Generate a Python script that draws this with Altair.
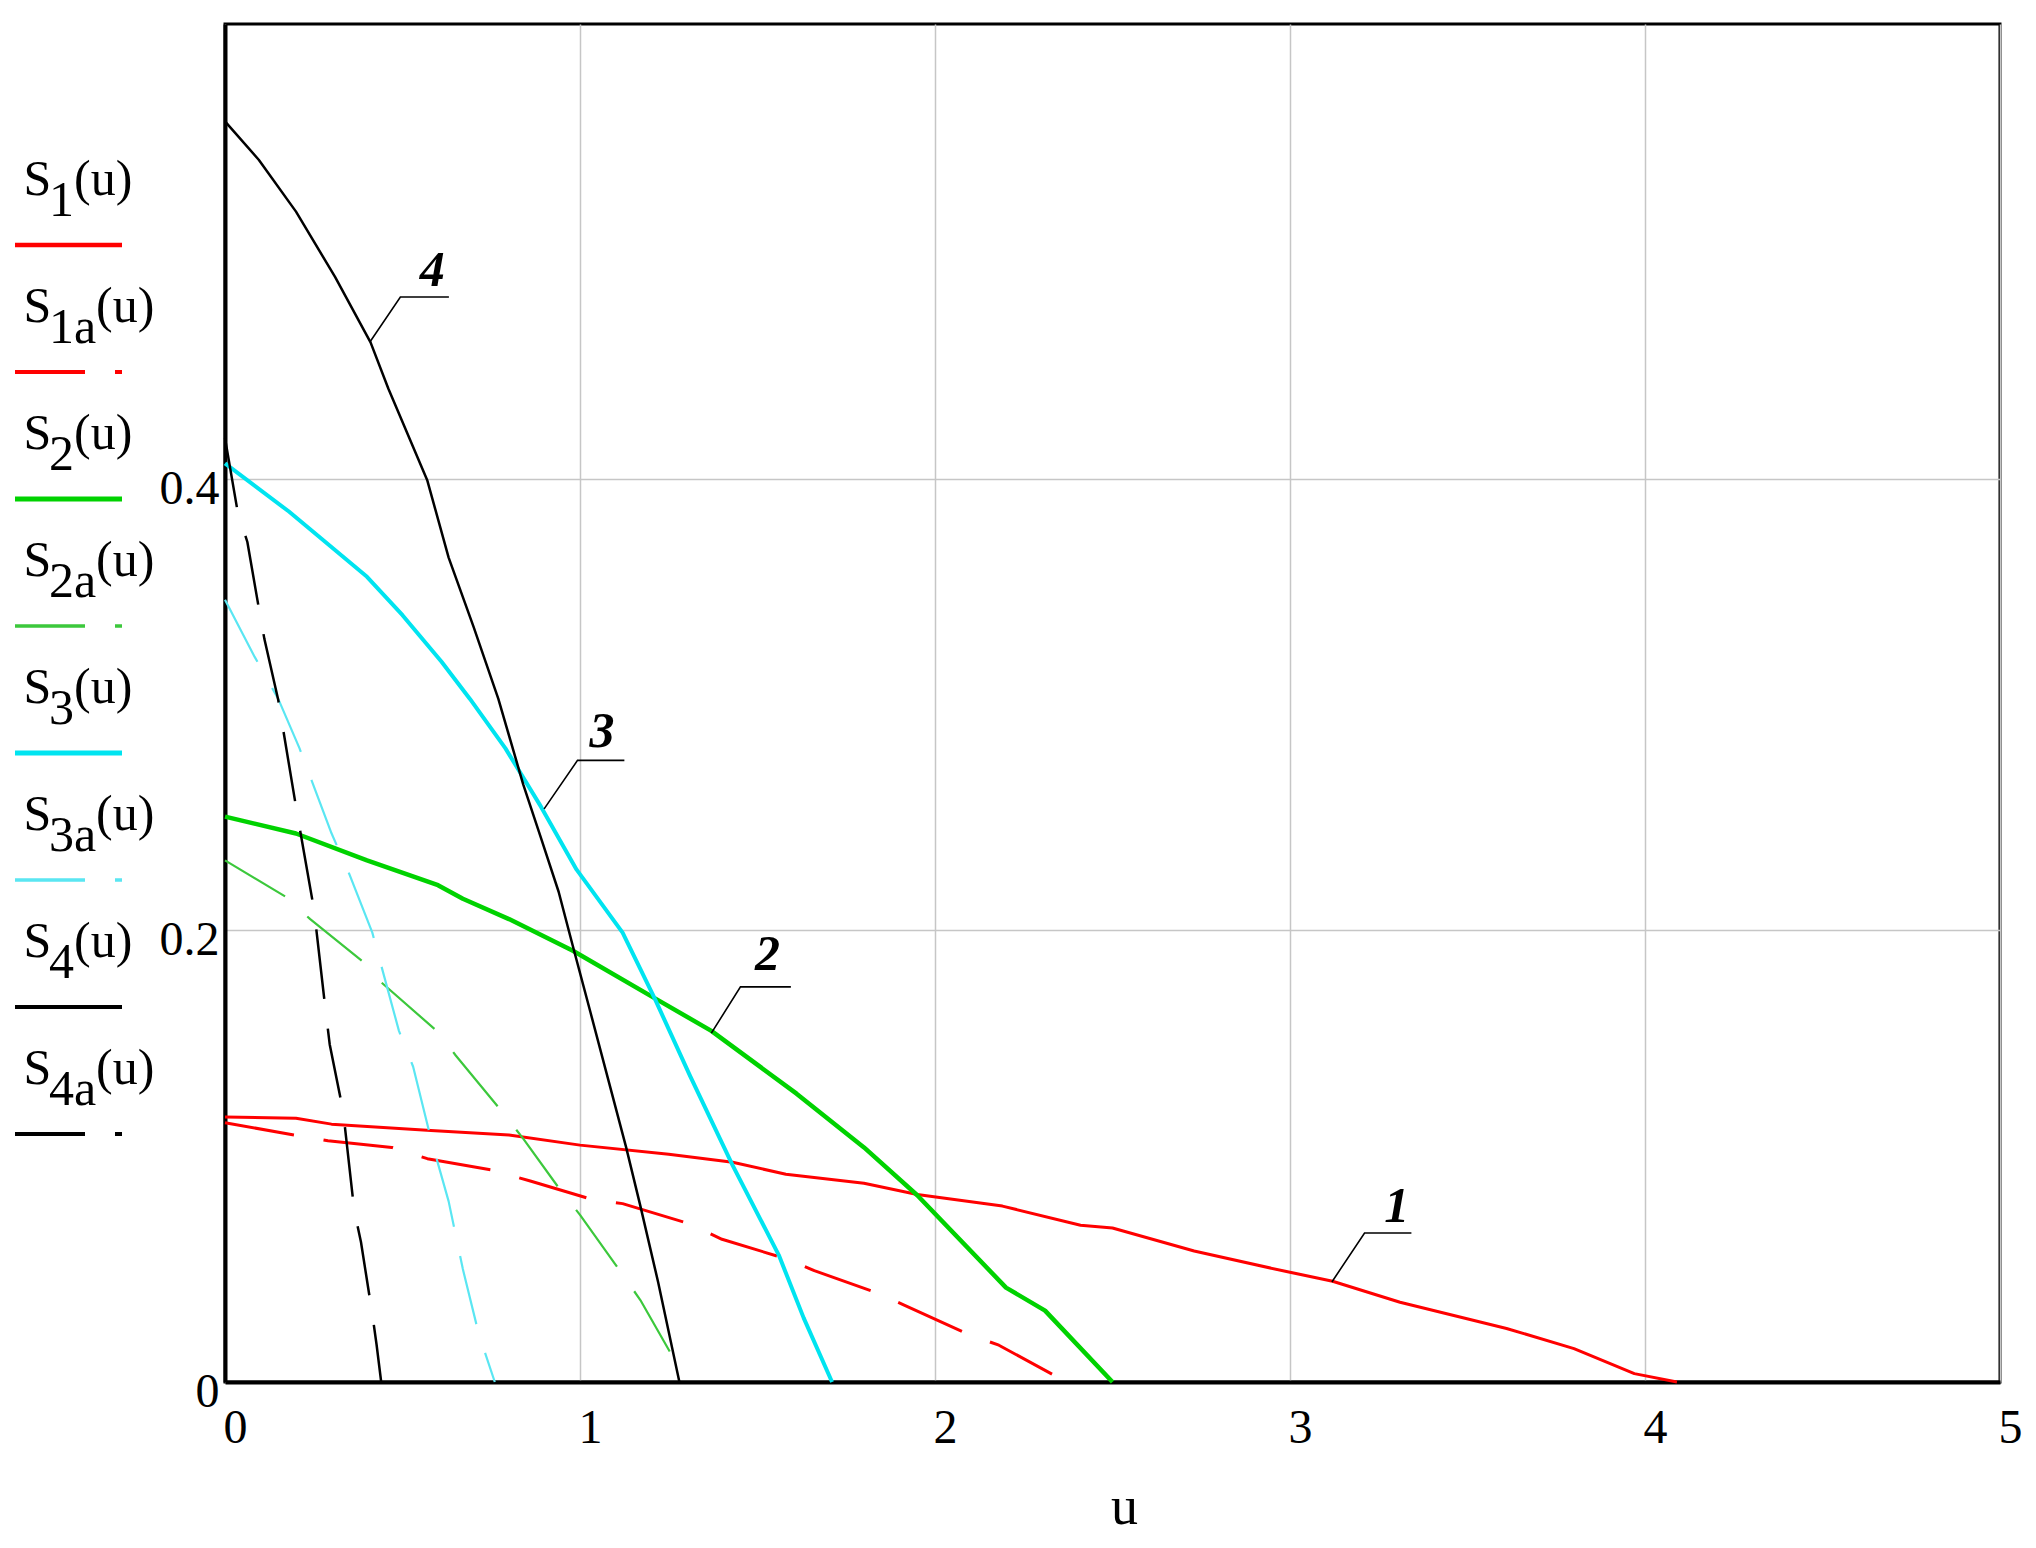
import altair as alt
import pandas as pd

# ---------------- data ----------------
series_names = ["S1", "S1a", "S2", "S2a", "S3", "S3a", "S4", "S4a"]
subscripts = ["1", "1a", "2", "2a", "3", "3a", "4", "4a"]

u_S1 = [0, 0.2, 0.3, 0.58, 0.8, 1.0, 1.25, 1.43, 1.58, 1.8, 1.95, 2.19, 2.41, 2.5,
        2.73, 2.99, 3.12, 3.31, 3.61, 3.8, 3.97, 4.09]
s_S1 = [0.1174, 0.1168, 0.1142, 0.1114, 0.1094, 0.1049, 0.1009, 0.0973, 0.0920, 0.0880,
        0.0830, 0.0779, 0.0694, 0.0682, 0.0580, 0.0489, 0.0446, 0.0353, 0.0237, 0.0148,
        0.0037, 0.0]

u_S1a = [0, 0.195, 0.29, 0.47, 0.57, 0.75, 0.86, 1.03, 1.12, 1.31, 1.4, 1.58, 1.66,
         1.84, 1.91, 2.09, 2.18, 2.37]
s_S1a = [0.1148, 0.1094, 0.1068, 0.1039, 0.0989, 0.0939, 0.0890, 0.0810, 0.0790, 0.0700,
         0.0632, 0.0546, 0.0493, 0.0393, 0.0343, 0.0214, 0.0163, 0.0]

u_S2 = [0, 0.2, 0.4, 0.6, 0.67, 0.8, 0.98, 1.21, 1.37, 1.61, 1.8, 1.95, 2.2, 2.31, 2.5]
s_S2 = [0.2504, 0.2429, 0.2310, 0.2200, 0.2140, 0.2050, 0.1910, 0.1700, 0.1555, 0.1277,
        0.1039, 0.0827, 0.0418, 0.0316, 0.0]

u_S2a = [0, 0.17, 0.24, 0.39, 0.44, 0.6, 0.65, 0.77, 0.84, 0.94, 1.0, 1.1, 1.17, 1.26, 1.27]
s_S2a = [0.2310, 0.2150, 0.2050, 0.1860, 0.1770, 0.1550, 0.1446, 0.1217, 0.1078, 0.0860,
         0.0740, 0.0520, 0.0363, 0.0115, 0.0070]

u_S3 = [0, 0.18, 0.4, 0.5, 0.61, 0.69, 0.79, 0.89, 0.99, 1.12, 1.21, 1.31, 1.43, 1.56,
        1.63, 1.71]
s_S3 = [0.4068, 0.3855, 0.3566, 0.3396, 0.3190, 0.3025, 0.2806, 0.2548, 0.2270, 0.1990,
        0.1700, 0.1356, 0.0959, 0.0562, 0.0284, 0.0]

u_S3a = [0, 0.084, 0.15, 0.21, 0.3, 0.35, 0.415, 0.49, 0.53, 0.58, 0.63, 0.67, 0.71,
         0.725, 0.76]
s_S3a = [0.3464, 0.3210, 0.3025, 0.2806, 0.2430, 0.2250, 0.1990, 0.1555, 0.1396, 0.1078,
         0.0800, 0.0500, 0.0244, 0.0165, 0.0]

u_S4 = [0, 0.095, 0.2, 0.31, 0.41, 0.46, 0.57, 0.63, 0.7, 0.77, 0.84, 0.89, 0.94, 0.98,
        1.03, 1.09, 1.13, 1.17, 1.22, 1.28]
s_S4 = [0.5583, 0.5413, 0.5183, 0.4894, 0.4604, 0.4400, 0.3992, 0.3651, 0.3345, 0.3025,
        0.2647, 0.2410, 0.2170, 0.1930, 0.1634, 0.1277, 0.1039, 0.0780, 0.0443, 0.0]

u_S4a = [0, 0.035, 0.063, 0.095, 0.111, 0.15, 0.2, 0.213, 0.251, 0.283, 0.295, 0.333,
         0.364, 0.383, 0.415, 0.427, 0.44]
s_S4a = [0.418, 0.386, 0.372, 0.343, 0.329, 0.302, 0.2548, 0.243, 0.209, 0.165, 0.1495,
         0.1197, 0.076, 0.062, 0.030, 0.0165, 0.0]

curves = {
    "S1": (u_S1, s_S1), "S1a": (u_S1a, s_S1a),
    "S2": (u_S2, s_S2), "S2a": (u_S2a, s_S2a),
    "S3": (u_S3, s_S3), "S3a": (u_S3a, s_S3a),
    "S4": (u_S4, s_S4), "S4a": (u_S4a, s_S4a),
}

x_ticks = [0, 1, 2, 3, 4, 5]
y_ticks = [0, 0.2, 0.4]
x_title = "u"

ann_labels = ["4", "3", "2", "1"]
ann_text_u = [0.584, 1.062, 1.528, 3.301]
ann_text_s = [0.492, 0.288, 0.189, 0.0776]
lead_u = [[0.4096, 0.494, 0.6307], [0.899, 0.993, 1.125],
          [1.370, 1.452, 1.594], [3.118, 3.21, 3.342]]
lead_s = [[0.4609, 0.4805, 0.4805], [0.2538, 0.2753, 0.2753],
          [0.1545, 0.175, 0.175], [0.0443, 0.066, 0.066]]

# ---------------- styles ----------------
DASH = [70, 30]
style = {
    "S1": ("#ff0000", None, 3.0),
    "S1a": ("#ff0000", DASH, 3.0),
    "S2": ("#00d200", None, 4.5),
    "S2a": ("#3cc83c", DASH, 2.2),
    "S3": ("#00e4f0", None, 4.0),
    "S3a": ("#5ae6f2", DASH, 2.2),
    "S4": ("#000000", None, 2.5),
    "S4a": ("#000000", DASH, 2.5),
}
legend_width = {"S1": 4.5, "S1a": 4.0, "S2": 5.0, "S2a": 3.5,
                "S3": 5.0, "S3a": 3.5, "S4": 4.0, "S4a": 4.0}

FONT = "Liberation Serif"
W, H = 1775, 1358
Y_MAX = 0.6014

# legend layout (pixels relative to the plot origin)
LEG_STEP = 127
LEG_TEXT_Y0 = 171
LEG_LINE_Y0 = 221
LEG_S_X = -201.5
LEG_SUB_X = -176
LEG_SUB_DY = 21
LEG_LINE_X1, LEG_LINE_X2 = -210, -103
LEG_FS = 50
CHAR_W = {"a": 22}

# ---------------- build tables ----------------
rows = []
for name in series_names:
    us, ss = curves[name]
    for k, (u, s) in enumerate(zip(us, ss)):
        rows.append({"series": name, "u": u, "S": s, "k": k})
df = pd.DataFrame(rows)

lead_rows = []
for lab, us, ss in zip(ann_labels, lead_u, lead_s):
    for k, (u, s) in enumerate(zip(us, ss)):
        lead_rows.append({"label": lab, "u": u, "S": s, "k": k})
df_lead = pd.DataFrame(lead_rows)
df_ann = pd.DataFrame({"label": ann_labels, "u": ann_text_u, "S": ann_text_s})

xscale = alt.Scale(domain=[0, 5], nice=False, zero=False)
yscale = alt.Scale(domain=[0, Y_MAX], nice=False, zero=False)

xaxis = alt.Axis(values=x_ticks, format="d", title=x_title, grid=True, ticks=False,
                 tickSize=0, labelPadding=60, labelBaseline="alphabetic",
                 labelOffset=10, labelFlush=False, labelOverlap=False,
                 titleX=899, titleY=141, titleAlign="center",
                 titleBaseline="alphabetic", titleFontSize=54)
yaxis = alt.Axis(values=y_ticks, format=".1~f", title="", grid=True, ticks=False,
                 tickSize=0, labelPadding=6, labelBaseline="alphabetic",
                 labelOffset=24.5, labelAlign="right", labelFlush=False,
                 labelOverlap=False)

X = alt.X("u:Q", scale=xscale, axis=xaxis)
Y = alt.Y("S:Q", scale=yscale, axis=yaxis)

layers = []
for name in series_names:
    color, dash, width = style[name]
    kw = dict(color=color, strokeWidth=width, strokeCap="butt", strokeJoin="round")
    if dash is not None:
        kw["strokeDash"] = dash
    layers.append(
        alt.Chart(df[df.series == name]).mark_line(**kw).encode(x=X, y=Y, order="k:Q")
    )

layers.append(
    alt.Chart(df_lead).mark_line(color="black", strokeWidth=1.6).encode(
        x=X, y=Y, detail="label:N", order="k:Q")
)
layers.append(
    alt.Chart(df_ann).mark_text(font=FONT, fontStyle="italic", fontWeight="bold",
                                fontSize=50, align="center", baseline="middle",
                                color="black").encode(x=X, y=Y, text="label:N")
)

# legend (Mathcad-style trace names with line samples)
one = pd.DataFrame({"a": [0]})
for i, (name, sub) in enumerate(zip(series_names, subscripts)):
    color, dash, _ = style[name]
    ty = LEG_TEXT_Y0 + i * LEG_STEP
    ly = LEG_LINE_Y0 + i * LEG_STEP
    rkw = dict(color=color, strokeWidth=legend_width[name], strokeCap="butt")
    if dash is not None:
        rkw["strokeDash"] = DASH
    layers.append(alt.Chart(one).mark_rule(**rkw).encode(
        x=alt.value(LEG_LINE_X1), x2=alt.value(LEG_LINE_X2), y=alt.value(ly)))
    tkw = dict(font=FONT, fontSize=LEG_FS, align="left", baseline="alphabetic",
               color="black")
    layers.append(alt.Chart(one).mark_text(text="S", **tkw).encode(
        x=alt.value(LEG_S_X), y=alt.value(ty)))
    layers.append(alt.Chart(one).mark_text(text=sub, **tkw).encode(
        x=alt.value(LEG_SUB_X), y=alt.value(ty + LEG_SUB_DY)))
    sub_w = sum(CHAR_W.get(c, 25) for c in sub)
    layers.append(alt.Chart(one).mark_text(text="(u)", **tkw).encode(
        x=alt.value(LEG_SUB_X + sub_w), y=alt.value(ty)))

chart = alt.layer(*layers).properties(
    width=W, height=H,
    autosize=alt.AutoSizeParams(type="none"),
    padding={"left": 217, "top": 16, "right": 24, "bottom": 156},
    background="white",
).configure_view(
    stroke="black", strokeWidth=3
).configure_axis(
    labelFont=FONT, labelFontSize=48, labelColor="black",
    domainColor="black", domainWidth=4,
    gridColor="#c6c6c6", gridWidth=1.5,
    titleFont=FONT, titleFontWeight="normal", titleColor="black",
)

chart.save("out.html", embed_options={"renderer": "svg", "actions": False})
